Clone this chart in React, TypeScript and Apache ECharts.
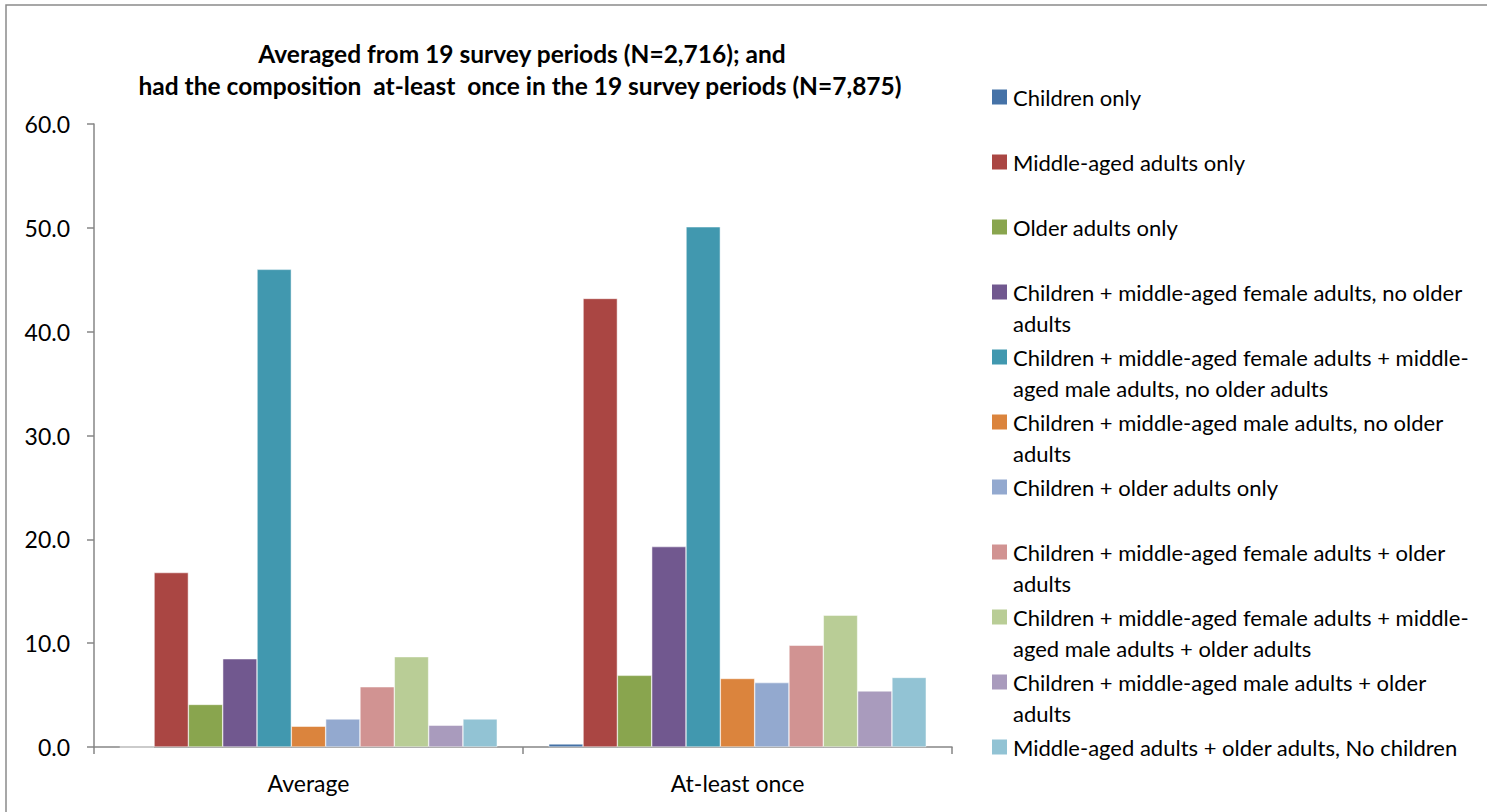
import React, { useEffect, useRef } from "react";
import * as echarts from "echarts";

const categories = ["Average", "At-least once"];

const seriesNames = [
  "Children only",
  "Middle-aged adults only",
  "Older adults only",
  "Children + middle-aged female adults, no older adults",
  "Children + middle-aged female adults + middle-aged male adults, no older adults",
  "Children + middle-aged male adults, no older adults",
  "Children + older adults only",
  "Children + middle-aged female adults + older adults",
  "Children + middle-aged female adults + middle-aged male adults + older adults",
  "Children + middle-aged male adults + older adults",
  "Middle-aged adults + older adults, No children",
];

const legendLabels = [
  "Children only",
  "Middle-aged adults only",
  "Older adults only",
  "Children + middle-aged female adults, no older\nadults",
  "Children + middle-aged female adults + middle-\naged male adults, no older adults",
  "Children + middle-aged male adults, no older\nadults",
  "Children + older adults only",
  "Children + middle-aged female adults + older\nadults",
  "Children + middle-aged female adults + middle-\naged male adults + older adults",
  "Children + middle-aged male adults + older\nadults",
  "Middle-aged adults + older adults, No children",
];

// values per series: [Average, At-least once]
const childrenOnly = [0.0, 0.3];
const middleAgedOnly = [16.8, 43.2];
const olderOnly = [4.1, 6.9];
const childFemaleNoOlder = [8.5, 19.3];
const childFemaleMaleNoOlder = [46.0, 50.1];
const childMaleNoOlder = [2.0, 6.6];
const childOlderOnly = [2.7, 6.2];
const childFemaleOlder = [5.8, 9.8];
const childFemaleMaleOlder = [8.7, 12.7];
const childMaleOlder = [2.1, 5.4];
const middleOlderNoChildren = [2.7, 6.7];

const seriesValues = [
  childrenOnly,
  middleAgedOnly,
  olderOnly,
  childFemaleNoOlder,
  childFemaleMaleNoOlder,
  childMaleNoOlder,
  childOlderOnly,
  childFemaleOlder,
  childFemaleMaleOlder,
  childMaleOlder,
  middleOlderNoChildren,
];

const colors = [
  "#4572A7",
  "#AA4643",
  "#89A54E",
  "#71588F",
  "#4198AF",
  "#DB843D",
  "#93A9CF",
  "#D19392",
  "#B9CD96",
  "#A99BBD",
  "#92C3D4",
];

const titleLines = [
  "Averaged from 19 survey periods (N=2,716); and",
  "had the composition  at-least  once in the 19 survey periods (N=7,875)",
];

const FONT = "Lato, 'Open Sans', sans-serif";

export default function App() {
  const ref = useRef<HTMLDivElement>(null);
  useEffect(() => {
    if (!ref.current) return;
    const chart = echarts.init(ref.current, null, { renderer: "svg" });

    const legendGraphics: any[] = [];
    legendLabels.forEach((label, i) => {
      const cy = 97 + 65 * i;
      legendGraphics.push({
        type: "rect",
        shape: { x: 992, y: cy - 7.5, width: 15, height: 15 },
        style: { fill: colors[i] },
      });
      legendGraphics.push({
        type: "text",
        x: 1013,
        y: cy - 15.5,
        style: {
          text: label,
          font: `22px ${FONT}`,
          fill: "#000",
          lineHeight: 31,
          verticalAlign: "top",
          align: "left",
        },
      });
    });

    chart.setOption({
      animation: false,
      color: colors,
      textStyle: { fontFamily: FONT },
      graphic: [
        {
          type: "rect",
          shape: { x: 6, y: 5, width: 1520, height: 840 },
          style: { fill: "none", stroke: "#8a8a8a", lineWidth: 1.5 },
          silent: true,
        },
        {
          type: "text",
          x: 522,
          y: 53,
          style: {
            text: titleLines[0],
            font: `bold 24.5px ${FONT}`,
            fill: "#000",
            align: "center",
            verticalAlign: "middle",
          },
        },
        {
          type: "text",
          x: 520,
          y: 85,
          style: {
            text: titleLines[1],
            font: `bold 24.5px ${FONT}`,
            fill: "#000",
            align: "center",
            verticalAlign: "middle",
          },
        },
        ...legendGraphics,
      ],
      grid: { left: 94, top: 124, width: 858, height: 623, containLabel: false },
      xAxis: {
        type: "category",
        data: categories,
        axisLine: { lineStyle: { color: "#868686", width: 1.5 } },
        axisTick: { show: true, length: 7, alignWithLabel: false, lineStyle: { color: "#868686", width: 1.5 } },
        axisLabel: { color: "#000", fontSize: 23, margin: 24, fontFamily: FONT },
      },
      yAxis: {
        type: "value",
        min: 0,
        max: 60,
        interval: 10,
        splitLine: { show: false },
        axisLine: { show: true, lineStyle: { color: "#868686", width: 1.5 } },
        axisTick: { show: true, length: 7, lineStyle: { color: "#868686", width: 1.5 } },
        axisLabel: {
          color: "#000",
          fontSize: 23,
          margin: 24,
          fontFamily: FONT,
          formatter: (v: number) => v.toFixed(1),
        },
      },
      series: seriesValues.map((vals, i) => ({
        type: "bar",
        name: seriesNames[i],
        data: vals,
        barGap: "0%",
        barCategoryGap: "12%",
        itemStyle: { color: colors[i], borderColor: "#ffffff", borderWidth: 0.5 },
      })),
    });
    return () => chart.dispose();
  }, []);
  return (
    <div
      ref={ref}
      style={{ position: "fixed", left: 0, top: 0, width: 1487, height: 812, background: "#fff" }}
    />
  );
}
